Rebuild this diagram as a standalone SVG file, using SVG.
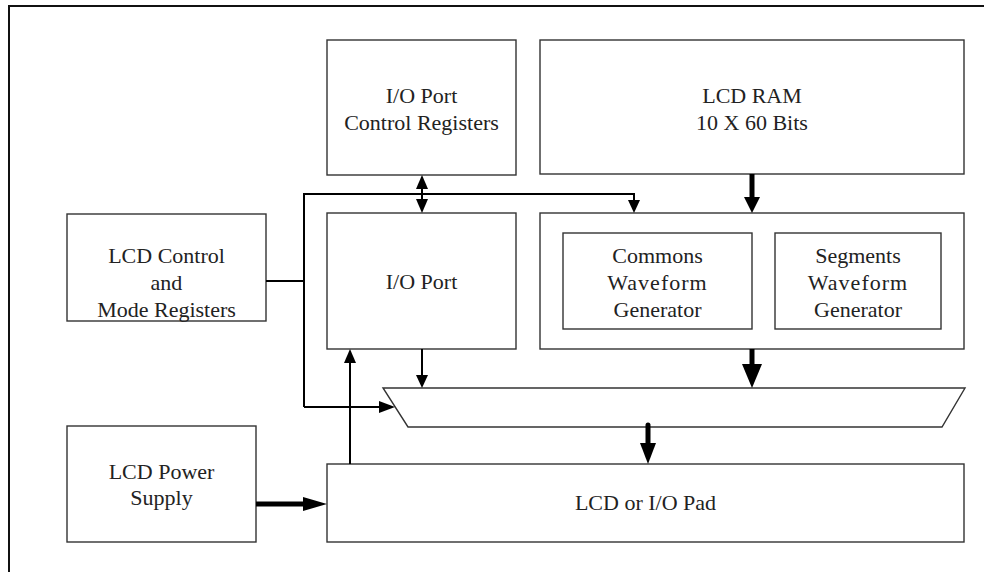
<svg xmlns="http://www.w3.org/2000/svg" width="984" height="572" viewBox="0 0 984 572">
<style>
.box{fill:#fff;stroke:#333;stroke-width:1.4}
.frame{fill:none;stroke:#111;stroke-width:2}
.t{font-family:'Liberation Serif','Times New Roman','DejaVu Serif',serif;font-size:22px;fill:#222;text-anchor:middle}
.w{fill:none;stroke:#000;stroke-width:2}
.k{fill:none;stroke:#000;stroke-width:5}
.h{fill:#000;stroke:none}
</style>
<rect width="984" height="572" fill="#fff"/>
<path class="frame" d="M9,572 V6 H984"/>
<g id="ioctl">
<rect class="box" x="327" y="40" width="189" height="135"/>
<text class="t" x="421.5" y="103">I/O Port</text>
<text class="t" x="421.5" y="130">Control Registers</text>
</g>
<g id="lcdram">
<rect class="box" x="540" y="40" width="424" height="134"/>
<text class="t" x="752" y="103">LCD RAM</text>
<text class="t" x="752" y="130">10 X 60 Bits</text>
</g>
<g id="lcdctl">
<rect class="box" x="67" y="214" width="199" height="107"/>
<text class="t" x="166.5" y="263">LCD Control</text>
<text class="t" x="166.5" y="290">and</text>
<text class="t" x="166.5" y="317">Mode Registers</text>
</g>
<g id="ioport">
<rect class="box" x="327" y="213" width="189" height="136"/>
<text class="t" x="421.5" y="289">I/O Port</text>
</g>
<g id="gen">
<rect class="box" x="540" y="213" width="424" height="136"/>
</g>
<g id="commons">
<rect class="box" x="563" y="233" width="189" height="96"/>
<text class="t" x="657.5" y="263">Commons</text>
<text class="t" x="657.5" y="290" letter-spacing="1">Waveform</text>
<text class="t" x="657.5" y="317">Generator</text>
</g>
<g id="segments">
<rect class="box" x="775" y="233" width="166" height="96"/>
<text class="t" x="858" y="263">Segments</text>
<text class="t" x="858" y="290" letter-spacing="1">Waveform</text>
<text class="t" x="858" y="317">Generator</text>
</g>
<g id="mux">
<polygon class="box" points="383,388 965,388 942,427 408,427"/>
</g>
<g id="power">
<rect class="box" x="67" y="426" width="189" height="116"/>
<text class="t" x="161.5" y="479">LCD Power</text>
<text class="t" x="161.5" y="505">Supply</text>
</g>
<g id="pad">
<rect class="box" x="327" y="464" width="637" height="78"/>
<text class="t" x="645.5" y="510">LCD or I/O Pad</text>
</g>
<g id="connectors">
<path class="w" d="M266,281 H304"/>
<path class="w" d="M304,407 V194 H634 V201"/>
<polygon class="h" points="628,200 634,213 640,200"/>
<path class="w" d="M304,407 H381"/>
<polygon class="h" points="379,401 395,407 379,413"/>
<path class="w" d="M422,188 V201"/>
<polygon class="h" points="416,189 422,175 428,189"/>
<polygon class="h" points="416,199 422,213 428,199"/>
<path class="w" d="M422,349 V377"/>
<polygon class="h" points="416,375 422,388 428,375"/>
<path class="w" d="M350,464 V361"/>
<polygon class="h" points="344,363 350,349 356,363"/>
<path class="k" d="M752,174 V199"/>
<polygon class="h" points="744,197 752,213 760,197"/>
<path class="k" d="M752,349 V366"/>
<polygon class="h" points="742,364 752,388 762,364"/>
<path class="k" d="M648,425 V445" stroke-linecap="round"/>
<polygon class="h" points="640,443 648,464 656,443"/>
<path class="k" d="M256,504 H305"/>
<polygon class="h" points="303,497 327,504 303,511"/>
</g>
</svg>
